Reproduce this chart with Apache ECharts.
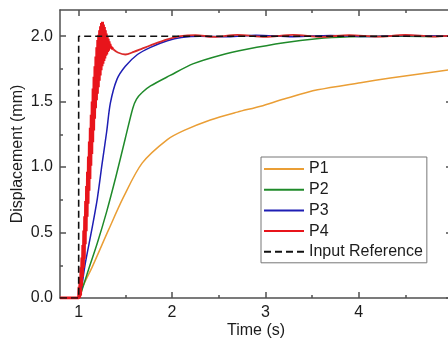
<!DOCTYPE html>
<html>
<head>
<meta charset="utf-8">
<script src="https://cdn.jsdelivr.net/npm/echarts@6/dist/echarts.min.js"></script>
<style>
html,body{margin:0;padding:0;background:#fff;}
#c{width:448px;height:343px;}
</style>
</head>
<body>
<div id="c"></div>
<script>
const xMajor = [1, 2, 3, 4, 5];
const xMinor = [1.5, 2.5, 3.5, 4.5];
const yMajor = [0, 0.5, 1, 1.5, 2];
const yMinor = [0.25, 0.75, 1.25, 1.75];

const seriesNames = ['P1', 'P2', 'P3', 'P4', 'Input Reference'];

const p1T = [0.8, 1.0, 1.02, 1.04, 1.147, 1.32, 1.48, 1.68, 1.95, 2.13, 2.41, 2.70, 2.95, 3.20, 3.56, 4.02, 4.34, 4.69, 5.0];
const p1V = [0, 0, 0.02, 0.08, 0.24, 0.52, 0.77, 1.03, 1.21, 1.28, 1.36, 1.42, 1.465, 1.52, 1.59, 1.645, 1.68, 1.715, 1.745];

const p2T = [0.8, 1.0, 1.03, 1.107, 1.2, 1.3, 1.4, 1.5, 1.58, 1.62, 1.68, 1.77, 1.98, 2.23, 2.52, 2.80, 3.2, 3.55, 3.9, 4.3, 4.7, 5.0];
const p2V = [0, 0, 0.05, 0.22, 0.42, 0.66, 0.93, 1.22, 1.45, 1.52, 1.57, 1.62, 1.70, 1.79, 1.855, 1.90, 1.95, 1.98, 1.995, 2.0, 1.998, 2.002];

const p3T = [0.8, 1.0, 1.02, 1.07, 1.14, 1.20, 1.25, 1.30, 1.34, 1.41, 1.50, 1.63, 1.77, 1.95, 2.1, 2.3, 2.6, 2.9, 3.3, 3.7, 4.1, 4.5, 5.0];
const p3V = [0, 0, 0.03, 0.26, 0.52, 0.76, 1.02, 1.27, 1.49, 1.67, 1.77, 1.86, 1.915, 1.965, 1.99, 2.0, 1.996, 2.008, 1.996, 2.006, 1.997, 2.005, 2.0];

// P4: oscillating rise (band) followed by the settling tail
const p4T = [0.8, 1.0,
  1.005, 1.010, 1.015, 1.020, 1.025, 1.030, 1.035, 1.040, 1.045, 1.050,
  1.055, 1.060, 1.065, 1.070, 1.075, 1.080, 1.085, 1.090, 1.095, 1.100,
  1.105, 1.110, 1.115, 1.120, 1.125, 1.130, 1.135, 1.140, 1.145, 1.150,
  1.155, 1.160, 1.165, 1.170, 1.175, 1.180, 1.185, 1.190, 1.195, 1.200,
  1.205, 1.210, 1.215, 1.220, 1.225, 1.230, 1.235, 1.240, 1.245, 1.250,
  1.255, 1.260, 1.265, 1.270, 1.275, 1.280, 1.285, 1.290, 1.295, 1.300,
  1.305, 1.310, 1.315, 1.320, 1.325, 1.330, 1.335, 1.340,
  1.37, 1.42, 1.50, 1.59, 1.68, 1.77, 1.95, 2.09, 2.25, 2.45, 2.7, 3.0, 3.3, 3.6, 3.9, 4.2, 4.5, 4.8, 5.0];
const p4V = [0, 0,
  0.085, 0.00, 0.16, 0.02, 0.235, 0.09, 0.31, 0.16, 0.405, 0.23,
  0.515, 0.30, 0.625, 0.41, 0.74, 0.51, 0.855, 0.62, 0.965, 0.72,
  1.08, 0.82, 1.195, 0.91, 1.30, 1.01, 1.40, 1.10, 1.50, 1.19,
  1.60, 1.28, 1.69, 1.37, 1.77, 1.45, 1.845, 1.51, 1.915, 1.56,
  1.97, 1.61, 2.01, 1.66, 2.045, 1.70, 2.075, 1.74, 2.10, 1.77,
  2.11, 1.79, 2.09, 1.81, 2.07, 1.83, 2.045, 1.85, 2.02, 1.86,
  2.00, 1.88, 1.98, 1.89, 1.96, 1.91, 1.94, 1.92,
  1.90, 1.875, 1.86, 1.88, 1.905, 1.93, 1.975, 2.0, 2.008, 1.995, 2.01, 1.995, 2.01, 1.995, 2.008, 1.996, 2.01, 1.997, 2.005];
const p4BandEnd = 70; // index of last point of the oscillating part

const refT = [0.8, 1.0, 1.0, 5.0];
const refV = [0, 0, 2.0, 2.0];

function pairs(t, v) { return t.map((x, i) => [x, v[i]]); }

const axisCol = '#505050';
const txtCol = '#1c1c1c';
const font = 'Liberation Sans, Arial, sans-serif';

function xAx(pos, ticks, len, main, labels) {
  return {
    type: 'value', min: 0.8, max: 5, position: pos, gridIndex: 0,
    axisLine: { show: main, onZero: false, lineStyle: { color: axisCol, width: 1.5 } },
    axisTick: { show: true, inside: true, length: len, customValues: ticks, lineStyle: { color: axisCol, width: 1.5 } },
    axisLabel: labels ? { show: true, customValues: ticks, showMaxLabel: true, showMinLabel: true, color: txtCol, fontSize: 16, fontFamily: font, margin: 7, hideOverlap: false } : { show: false },
    splitLine: { show: false }
  };
}
function yAx(pos, ticks, len, main, labels) {
  return {
    type: 'value', min: 0, max: 2.2, position: pos, gridIndex: 0,
    axisLine: { show: main, onZero: false, lineStyle: { color: axisCol, width: 1.5 } },
    axisTick: { show: true, inside: true, length: len, customValues: ticks, lineStyle: { color: axisCol, width: 1.5 } },
    axisLabel: labels ? { show: true, customValues: ticks, color: txtCol, fontSize: 16, fontFamily: font, margin: 7, formatter: v => v.toFixed(1) } : { show: false },
    splitLine: { show: false }
  };
}

const xMain = xAx('bottom', xMajor, 6, true, true);
xMain.name = 'Time (s)';
xMain.nameLocation = 'middle';
xMain.nameGap = 25;
xMain.nameMoveOverlap = false;
xMain.nameTextStyle = { color: txtCol, fontSize: 16, fontFamily: font };

const yMain = yAx('left', yMajor, 6, true, true);
yMain.name = 'Displacement (mm)';
yMain.nameLocation = 'middle';
yMain.nameGap = 34;
yMain.nameMoveOverlap = false;
yMain.nameTextStyle = { color: txtCol, fontSize: 16, fontFamily: font };

const colors = ['#EA9E35', '#1F8A2A', '#1E1EB4', '#E8141B', '#111111'];

function lineSeries(name, data, color, extra) {
  return Object.assign({
    name: name, type: 'line', data: data, xAxisIndex: 0, yAxisIndex: 0,
    symbol: 'none', showSymbol: false, animation: false,
    lineStyle: { color: color, width: 1.5 }, itemStyle: { color: color }
  }, extra || {});
}

const p4All = pairs(p4T, p4V);

const option = {
  backgroundColor: '#fff',
  animation: false,
  grid: { left: 60, top: 10, right: -4, bottom: 45, containLabel: false, outerBoundsMode: 'none' },
  xAxis: [xMain, xAx('bottom', xMinor, 3, false, false), xAx('top', xMajor, 6, true, false), xAx('top', xMinor, 3, false, false)],
  yAxis: [yMain, yAx('left', yMinor, 3, false, false), yAx('right', yMajor, 6, true, false), yAx('right', yMinor, 3, false, false)],
  legend: {
    orient: 'vertical', left: 261, top: 157,
    itemWidth: 40, itemHeight: 14, itemGap: 4.7,
    padding: [4, 4, 3, 2],
    borderColor: '#777', borderWidth: 1, borderRadius: 0,
    backgroundColor: '#fff',
    itemStyle: { opacity: 0 },
    textStyle: { color: txtCol, fontSize: 16, fontFamily: font },
    data: seriesNames
  },
  series: [
    lineSeries(seriesNames[0], pairs(p1T, p1V), colors[0], { smooth: 0.3 }),
    lineSeries(seriesNames[1], pairs(p2T, p2V), colors[1], { smooth: 0.3 }),
    lineSeries(seriesNames[2], pairs(p3T, p3V), colors[2], { smooth: 0.3 }),
    lineSeries(seriesNames[3], p4All.slice(0, p4BandEnd + 1), colors[3], { smooth: false, lineStyle: { color: colors[3], width: 3 } }),
    lineSeries(seriesNames[3], p4All.slice(p4BandEnd), colors[3], { smooth: 0.3, lineStyle: { color: '#DA2A2A', width: 1.8 } }),
    lineSeries(seriesNames[4], pairs(refT, refV), colors[4], { lineStyle: { color: colors[4], width: 1.6, type: [7, 4] }, z: 5 })
  ]
};

const chart = echarts.init(document.getElementById('c'), null, { renderer: 'canvas' });
chart.setOption(option);
</script>
</body>
</html>
